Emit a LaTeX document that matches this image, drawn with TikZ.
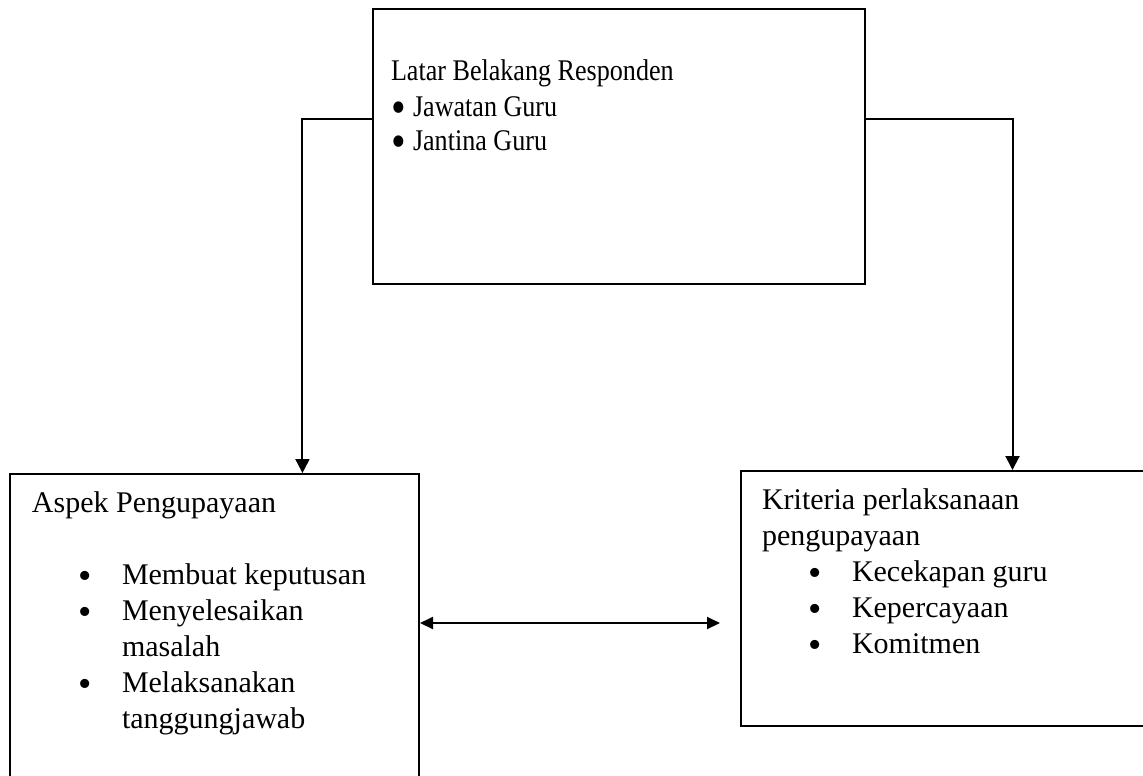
\documentclass[tikz,border=0pt]{standalone}
\usepackage{fontspec}
\setmainfont{Liberation Serif}
\newfontfamily\narrowserif[FakeStretch=0.87]{Liberation Serif}
\usetikzlibrary{arrows.meta, calc}

\newcommand{\bigdot}{\raisebox{-2pt}{\fontsize{19}{19}\selectfont\textbullet}}
\newcommand{\listitem}[1]{\hspace*{23pt}\makebox[22pt][l]{\bigdot}#1}
\newcommand{\listmore}[1]{\hspace*{45pt}#1}
\newcommand{\dotitem}[1]{\hspace*{0pt}\makebox[11pt][l]{\raisebox{-3.5pt}{\fontsize{24}{24}\selectfont\textbullet}}#1}

\begin{document}
\begin{tikzpicture}[
    x=0.5pt, y=-0.5pt,
    line width=1pt,
    box/.style={
      rectangle,
      draw,
      inner sep=0pt
    },
    boxtext/.style={
      anchor=base west,
      align=left,
      inner sep=0pt,
      font=\fontsize{15}{18}\selectfont
    },
    arrowstyle/.style={
      -{Triangle[length=7pt, width=7pt]}
    },
    twoway/.style={
      {Triangle[length=6.5pt, width=6pt]}-{Triangle[length=6.5pt, width=6pt]}
    }
]
\useasboundingbox (0,0) rectangle (1143,775);

% 1. NODES
\node[box, minimum width=246pt, minimum height=137.5pt] (latar) at (619,146.5) {};
\node[box, minimum width=204.5pt, minimum height=163pt] (aspek) at (214.5,637) {};
\node[box, minimum width=204.5pt, minimum height=127.5pt] (kriteria) at (945.5,598.5) {};

% texts sit on the baseline of their last line
\node[boxtext, font=\narrowserif\fontsize{15}{17.5}\selectfont] (latartext) at (390,151)
    {Latar Belakang Responden\\ \dotitem{Jawatan Guru}\\ \dotitem{Jantina Guru}};

\node[boxtext] (aspektext) at (31,728)
    {Aspek Pengupayaan\\ \mbox{}\\ \listitem{Membuat keputusan}\\ \listitem{Menyelesaikan}\\
     \listmore{masalah}\\ \listitem{Melaksanakan}\\ \listmore{tanggungjawab}};

\node[boxtext] (kriteriatext) at (761,653)
    {Kriteria perlaksanaan\\ pengupayaan\\ \listitem{Kecekapan guru}\\ \listitem{Kepercayaan}\\
     \listitem{Komitmen}};

\coordinate (pairtip) at (720,623);

% 2. ARROWS
\draw[arrowstyle] ($(latar.north west)!0.4!(latar.south west)$)
    -| ($(aspek.north west)!0.714!(aspek.north east)$);
\draw[arrowstyle] ($(latar.north east)!0.4!(latar.south east)$)
    -| ($(kriteria.north west)!0.663!(kriteria.north east)$);

% link between the two lower boxes
\draw[twoway] (aspek.east |- pairtip) -- (pairtip);

\end{tikzpicture}
\end{document}
